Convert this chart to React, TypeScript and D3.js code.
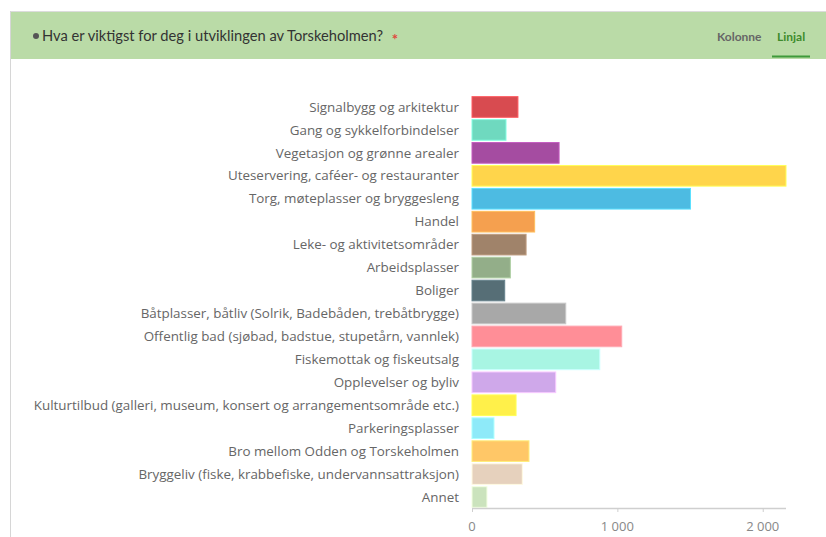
import React from "react";
import * as d3 from "d3";

const categories = [
  "Signalbygg og arkitektur",
  "Gang og sykkelforbindelser",
  "Vegetasjon og grønne arealer",
  "Uteservering, caféer- og restauranter",
  "Torg, møteplasser og bryggesleng",
  "Handel",
  "Leke- og aktivitetsområder",
  "Arbeidsplasser",
  "Boliger",
  "Båtplasser, båtliv (Solrik, Badebåden, trebåtbrygge)",
  "Offentlig bad (sjøbad, badstue, stupetårn, vannlek)",
  "Fiskemottak og fiskeutsalg",
  "Opplevelser og byliv",
  "Kulturtilbud (galleri, museum, konsert og arrangementsområde etc.)",
  "Parkeringsplasser",
  "Bro mellom Odden og Torskeholmen",
  "Bryggeliv (fiske, krabbefiske, undervannsattraksjon)",
  "Annet",
];

const values = [316, 234, 599, 2160, 1503, 431, 372, 264, 225, 645, 1030, 879, 576, 303, 151, 392, 346, 103];

const colors = [
  "#d84b50", "#6fd9bf", "#a54ca1", "#ffd54b", "#4dbbe2", "#f5a04f",
  "#a0836a", "#93ae89", "#566e76", "#a8a8a8", "#ff8e97", "#a8f5e3",
  "#cfa8ea", "#fff04a", "#8eeaf9", "#ffc767", "#e6d1bd", "#cbe3bd",
];

const tickValues = [0, 1000, 2000];
const tickLabels = ["0", "1 000", "2 000"];

const title = "Hva er viktigst for deg i utviklingen av Torskeholmen?";

export default function App() {
  const W = 826;
  const H = 537;
  const x = d3.scaleLinear().domain([0, d3.max(values) as number]).range([472, 786]);
  const y = d3.scaleBand<string>().domain(categories).range([95.5, 508.5]).paddingInner(0.1).paddingOuter(0.05);
  const font = "Lato, 'Open Sans', sans-serif";
  const labelFont = "'Open Sans', sans-serif";

  return (
    <svg width={W} height={H} style={{ position: "absolute", left: 0, top: 0 }}>
      <rect x={0} y={0} width={W} height={H} fill="#fff" />
      {/* header */}
      <rect x={10} y={12} width={W - 10} height={47} fill="#badba7" />
      <line x1={10} y1={11.5} x2={W} y2={11.5} stroke="#dcdcdc" />
      <line x1={10.5} y1={11} x2={10.5} y2={H} stroke="#d6d6d6" />
      <circle cx={36} cy={36} r={3} fill="#555" />
      <text x={42} y={41} fontFamily={font} fontSize={14.5} fill="#333" textLength={341} lengthAdjust="spacingAndGlyphs">
        {title}
      </text>
      <text x={395} y={45} fontFamily={font} fontSize={15} fontWeight={700} fill="#e0483e" textAnchor="middle">*</text>
      <text x={717} y={41} fontFamily={font} fontSize={12} fontWeight={700} fill="#666">Kolonne</text>
      <text x={777} y={41} fontFamily={font} fontSize={12} fontWeight={700} fill="#3d8b2c">Linjal</text>
      <rect x={772} y={55.5} width={38} height={2} fill="#3e9a3a" />

      {/* labels */}
      {categories.map((c) => (
        <text
          key={c}
          x={459}
          y={(y(c) as number) + y.bandwidth() / 2}
          dy="0.35em"
          textAnchor="end"
          fontFamily={labelFont}
          fontSize={13.4}
          fill="#666"
        >
          {c}
        </text>
      ))}

      {/* bars */}
      {categories.map((c, i) => {
        const col = d3.color(colors[i]);
        const stroke = col ? (col.brighter(0.5) as any).formatHex() : colors[i];
        return (
          <rect
            key={c}
            x={x(0)}
            y={y(c) as number}
            width={x(values[i]) - x(0)}
            height={y.bandwidth()}
            fill={colors[i]}
            stroke={stroke}
            strokeWidth={1}
          />
        );
      })}

      {/* axis */}
      <line x1={x(0)} y1={508.5} x2={786} y2={508.5} stroke="#cfcfcf" strokeWidth={1.5} />
      {tickValues.map((t, i) => (
        <g key={t}>
          <line x1={x(t) + 0.5} y1={508} x2={x(t) + 0.5} y2={512} stroke="#cfcfcf" />
          <text x={x(t)} y={531} textAnchor="middle" fontFamily={labelFont} fontSize={13} fill="#888">
            {tickLabels[i]}
          </text>
        </g>
      ))}
    </svg>
  );
}
